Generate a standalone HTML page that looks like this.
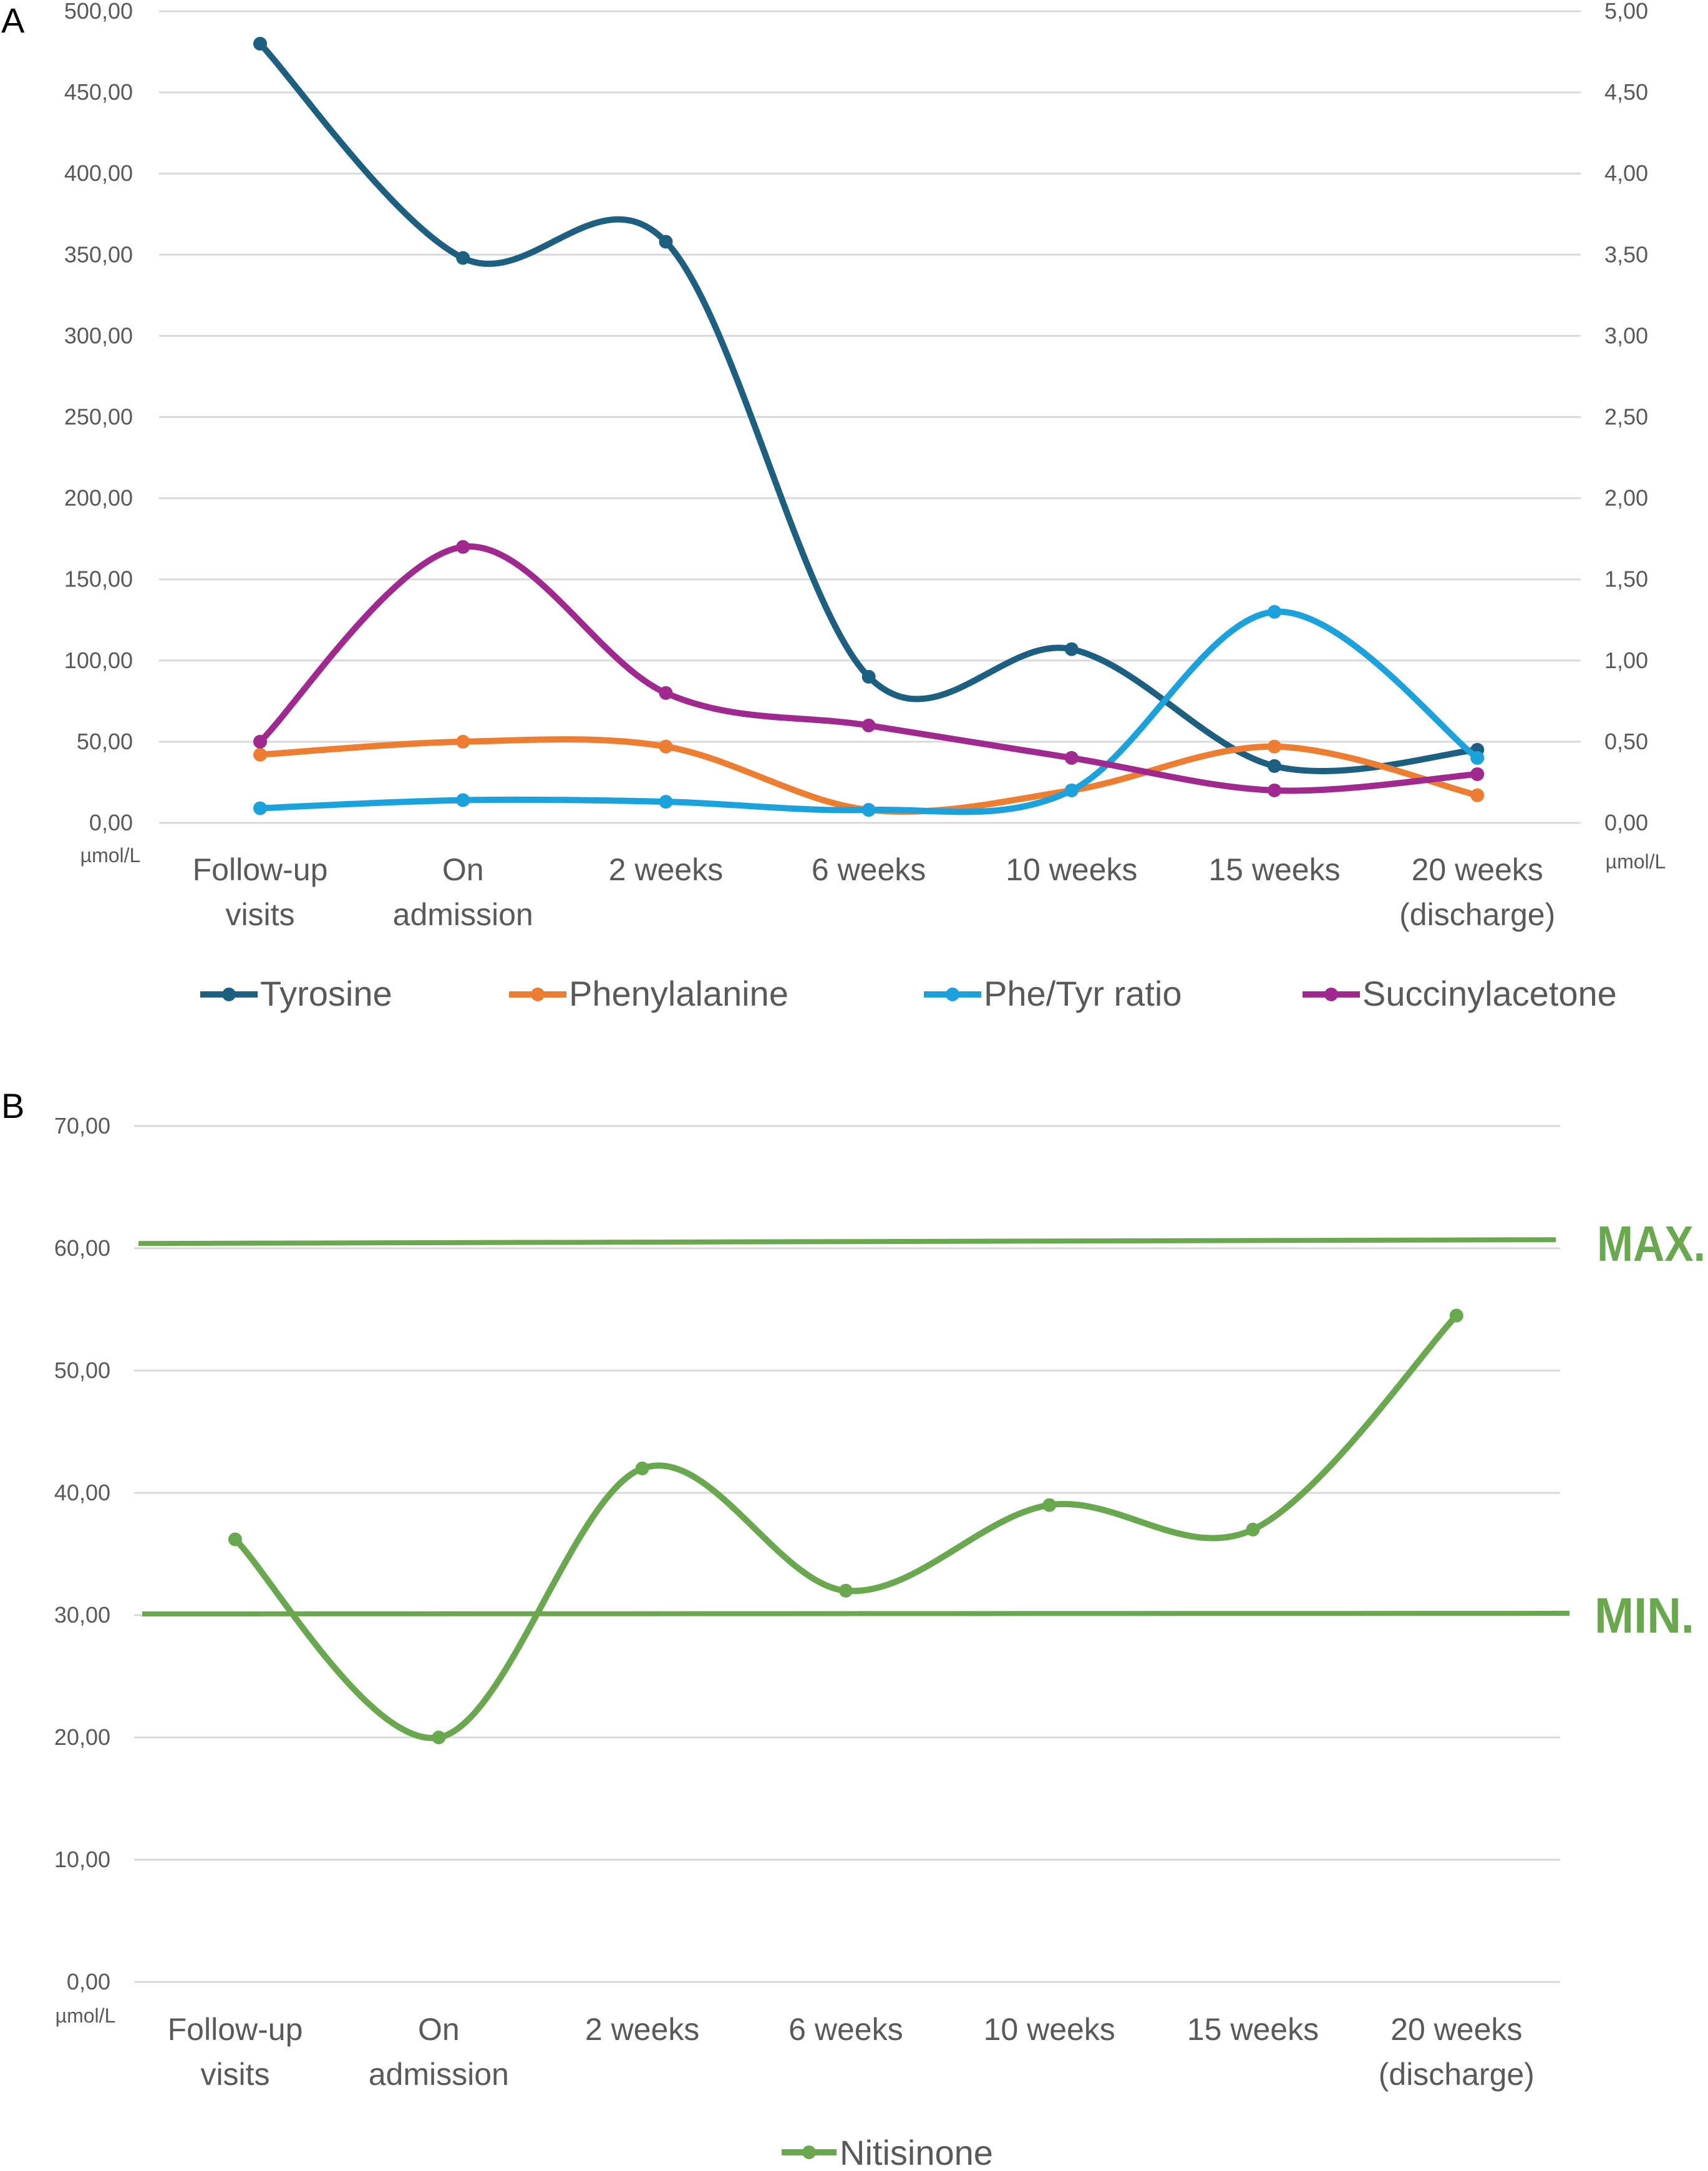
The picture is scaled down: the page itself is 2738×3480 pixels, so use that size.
<!DOCTYPE html>
<html><head><meta charset="utf-8"><style>
html,body{margin:0;padding:0;background:#fff;}
svg{display:block;font-family:"Liberation Sans",sans-serif;}
</style></head><body>
<svg id="chart" width="2738" height="3480" viewBox="0 0 2738 3480" xmlns="http://www.w3.org/2000/svg">
<text x="2" y="52" font-size="56" fill="#000">A</text>
<text x="2" y="1792" font-size="56" fill="#000">B</text>
<g id="ga"></g>
<g id="gb"></g>
</svg>
<script>
const categoriesA = [["Follow-up","visits"],["On","admission"],["2 weeks"],["6 weeks"],["10 weeks"],["15 weeks"],["20 weeks","(discharge)"]];
const tyrosine = [480,348,358,90,107,35,45];
const phenylalanine = [42,50,47,8,20,47,17];
const pheTyrRatio = [0.09,0.14,0.13,0.08,0.20,1.30,0.40];
const succinylacetone = [50,170,80,60,40,20,30];
const leftTicksA = ["0,00","50,00","100,00","150,00","200,00","250,00","300,00","350,00","400,00","450,00","500,00"];
const rightTicksA = ["0,00","0,50","1,00","1,50","2,00","2,50","3,00","3,50","4,00","4,50","5,00"];
const nitisinone = [36.2,20,42,32,39,37,54.5];
const ticksB = ["0,00","10,00","20,00","30,00","40,00","50,00","60,00","70,00"];
const maxLimit = 60.5, minLimit = 30.1;

const NS="http://www.w3.org/2000/svg";
function mk(tag, attrs, parent){const e=document.createElementNS(NS,tag);for(const k in attrs)e.setAttribute(k,attrs[k]);parent.appendChild(e);return e;}
function smooth(pts){let d=`M${pts[0][0]},${pts[0][1]}`;for(let i=0;i<pts.length-1;i++){const p0=pts[i-1]||pts[i],p1=pts[i],p2=pts[i+1],p3=pts[i+2]||p2;const t=1/6;d+=` C${p1[0]+(p2[0]-p0[0])*t},${p1[1]+(p2[1]-p0[1])*t} ${p2[0]-(p3[0]-p1[0])*t},${p2[1]-(p3[1]-p1[1])*t} ${p2[0]},${p2[1]}`;}return d;}

// Chart A
const ga=document.getElementById('ga');
const A={x0:255,x1:2534,y0:1319,y1:18,xStart:417,xStep:325.2};
const xA=i=>A.xStart+i*A.xStep;
const yA=v=>A.y0-(v/500)*(A.y0-A.y1);
const yAr=v=>A.y0-(v/5)*(A.y0-A.y1);
leftTicksA.forEach((t,i)=>{const v=i*50;
 let g=mk('line',{x1:A.x0,x2:A.x1,y1:yA(v),y2:yA(v),stroke:'#d9d9d9','stroke-width':3},ga);
 
 let l=mk('text',{x:213,y:yA(v)+12,'font-size':36,fill:'#595959','text-anchor':'end'},ga);l.textContent=t;
 
 let r=mk('text',{x:2572,y:yAr(i*0.5)+12,'font-size':36,fill:'#595959'},ga);r.textContent=rightTicksA[i];
 
});
let u1=mk('text',{x:177,y:1382,'font-size':32,fill:'#595959','text-anchor':'middle'},ga);u1.textContent='µmol/L';

let u2=mk('text',{x:2622,y:1392,'font-size':32,fill:'#595959','text-anchor':'middle'},ga);u2.textContent='µmol/L';

categoriesA.forEach((c,i)=>{c.forEach((ln,j)=>{let t=mk('text',{x:xA(i),y:1411+j*72,'font-size':50,fill:'#595959','text-anchor':'middle'},ga);t.textContent=ln;
 });});
const seriesA=[[tyrosine,'#1d5f80',yA,'tyrosine'],[phenylalanine,'#ed7d31',yA,'phenylalanine'],[pheTyrRatio,'#1ba1dc',yAr,'phe-tyr-ratio'],[succinylacetone,'#a0298f',yA,'succinylacetone']];
seriesA.forEach(([vals,col,yf,nm])=>{const pts=vals.map((v,i)=>[xA(i),yf(v)]);
 let p=mk('path',{d:smooth(pts),fill:'none',stroke:col,'stroke-width':10,'stroke-linecap':'round'},ga);
 
 pts.forEach(q=>{let c=mk('circle',{cx:q[0],cy:q[1],r:11,fill:col},ga);});
});
const legA=[['Tyrosine','#1d5f80',321],['Phenylalanine','#ed7d31',816],['Phe/Tyr ratio','#1ba1dc',1481],['Succinylacetone','#a0298f',2088]];
legA.forEach(([nm,col,x])=>{
 let l=mk('line',{x1:x,x2:x+92,y1:1594,y2:1594,stroke:col,'stroke-width':10},ga);
 let c=mk('circle',{cx:x+46,cy:1594,r:11,fill:col},ga);
 let t=mk('text',{x:x+96,y:1612,'font-size':56,fill:'#595959'},ga);t.textContent=nm;
});

// Chart B
const gb=document.getElementById('gb');
const B={x0:215,x1:2501,y0:3177,y1:1805,xStart:377,xStep:326.3};
const xB=i=>B.xStart+i*B.xStep;
const yB=v=>B.y0-(v/70)*(B.y0-B.y1);
ticksB.forEach((t,i)=>{const v=i*10;
 let g=mk('line',{x1:B.x0,x2:B.x1,y1:yB(v),y2:yB(v),stroke:'#d9d9d9','stroke-width':3},gb);
 
 let l=mk('text',{x:177,y:yB(v)+12,'font-size':36,fill:'#595959','text-anchor':'end'},gb);l.textContent=t;
 
});
let u3=mk('text',{x:137,y:3242,'font-size':32,fill:'#595959','text-anchor':'middle'},gb);u3.textContent='µmol/L';

categoriesA.forEach((c,i)=>{c.forEach((ln,j)=>{let t=mk('text',{x:xB(i),y:3270+j*72,'font-size':50,fill:'#595959','text-anchor':'middle'},gb);t.textContent=ln;
 });});
const green='#6aa84f';
let mx=mk('line',{x1:222,x2:2494,y1:yB(maxLimit)+2,y2:yB(maxLimit)-4,stroke:green,'stroke-width':8},gb);
let mn=mk('line',{x1:228,x2:2516,y1:yB(minLimit),y2:yB(minLimit)-1,stroke:green,'stroke-width':8},gb);
let mt=mk('text',{x:2560,y:yB(maxLimit)+30,'font-size':80,'font-weight':'bold',fill:green,textLength:174,lengthAdjust:'spacingAndGlyphs'},gb);mt.textContent='MAX.';
let nt=mk('text',{x:2556,y:yB(minLimit)+30,'font-size':80,'font-weight':'bold',fill:green,textLength:160,lengthAdjust:'spacingAndGlyphs'},gb);nt.textContent='MIN.';
const ptsB=nitisinone.map((v,i)=>[xB(i),yB(v)]);
let pb=mk('path',{d:smooth(ptsB),fill:'none',stroke:green,'stroke-width':10,'stroke-linecap':'round'},gb);

ptsB.forEach(q=>{let c=mk('circle',{cx:q[0],cy:q[1],r:11,fill:green},gb);});
let ll=mk('line',{x1:1253,x2:1341,y1:3450,y2:3450,stroke:green,'stroke-width':10},gb);
let lc=mk('circle',{cx:1297,cy:3450,r:11,fill:green},gb);
let lt=mk('text',{x:1346,y:3470,'font-size':56,fill:'#595959'},gb);lt.textContent='Nitisinone';
</script>
</body></html>
